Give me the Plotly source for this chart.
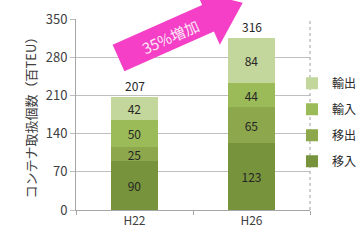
import math
import plotly.graph_objects as go

categories = ["H22", "H26"]
series_names = ["移入", "移出", "輸入", "輸出"]
iri = [90, 123]
ide = [25, 65]
yunyu = [50, 44]
yushutsu = [42, 84]
totals = [207, 316]
y_ticks = [0, 70, 140, 210, 280, 350]

colors = ["#77933C", "#8DA84C", "#9BBB59", "#C3D69B"]
series_vals = [iri, ide, yunyu, yushutsu]

FONT = "Noto Sans CJK JP"
W, H = 364, 242
L, R, T, B = 76, 54, 19, 32
pw, ph = W - L - R, H - T - B

fig = go.Figure()
for i, (name, vals) in enumerate(zip(series_names, series_vals)):
    fig.add_trace(go.Bar(
        x=categories, y=vals, name=name,
        marker=dict(color=colors[i], line=dict(width=0)),
        text=[str(v) for v in vals], textposition="inside", textangle=0,
        insidetextanchor="middle", constraintext="none",
        textfont=dict(family=FONT, size=12, color="#262626"),
        legendgroup=name, legendrank=len(series_names) - i, hoverinfo="skip",
    ))

for c, t in zip(categories, totals):
    fig.add_annotation(x=c, y=t, text=str(t), showarrow=False, yanchor="bottom",
                       yshift=1, font=dict(family=FONT, size=12, color="#262626"))

# arrow decoration (pixel geometry -> paper)
def to_paper(px, py):
    return ((px - L) / pw, (H - B - py) / ph)

ang = math.radians(24)
d = (math.cos(ang), -math.sin(ang))
n = (math.sin(ang), math.cos(ang))
c0 = (118.5, 58)
def pt(a, b):
    return (c0[0] + a * d[0] + b * n[0], c0[1] + a * d[1] + b * n[1])
pts = [pt(0, -14.5), pt(98, -14.5), pt(98, -29), pt(136, 0), pt(98, 29), pt(98, 14.5), pt(0, 14.5)]
path = ""
for k, (px, py) in enumerate(pts):
    xp, yp = to_paper(px, py)
    path += ("M" if k == 0 else "L") + f"{xp:.4f},{yp:.4f} "
path += "Z"
fig.add_shape(type="path", path=path, xref="paper", yref="paper",
              fillcolor="#F43FC6", line=dict(width=0), layer="above")
tx, ty = to_paper(*pt(56, 1))
fig.add_annotation(x=tx, y=ty, xref="paper", yref="paper", text="35%増加", showarrow=False,
                   xanchor="center", yanchor="middle", textangle=-24,
                   font=dict(family=FONT, size=15, color="#FFE6F7"))

# right dotted border
fig.add_shape(type="line", x0=1, x1=1, y0=0, y1=1, xref="paper", yref="paper",
              line=dict(color="#A0A0A0", width=1, dash="dot"))

fig.update_layout(
    width=W, height=H, margin=dict(l=L, r=R, t=T, b=B, autoexpand=False),
    barmode="stack", bargap=0.6, hovermode=False,
    plot_bgcolor="white", paper_bgcolor="white",
    font=dict(family=FONT, size=12, color="#404040"),
    legend=dict(x=0.923, y=0.74, xanchor="left", yanchor="top",
                traceorder="grouped", tracegroupgap=7,
                font=dict(family=FONT, size=12, color="#262626"),
                itemwidth=30, bgcolor="rgba(0,0,0,0)"),
    xaxis=dict(showline=True, linecolor="#A6A6A6", ticks="outside", tickson="boundaries",
               ticklen=4, tickcolor="#A6A6A6", showgrid=False,
               tickfont=dict(family=FONT, size=12, color="#404040")),
    yaxis=dict(range=[0, 350], tickvals=y_ticks, showline=True, linecolor="#A6A6A6",
               gridcolor="#BFBFBF", ticks="outside", ticklen=5, tickcolor="#BFBFBF",
               zeroline=False,
               title=dict(text="コンテナ取扱個数（百TEU）", standoff=6,
                          font=dict(family=FONT, size=13, color="#404040")),
               tickfont=dict(family=FONT, size=13, color="#404040")),
)

fig.write_html("out.html", config={"displayModeBar": False},
               post_script="document.body.style.margin='0px';")
